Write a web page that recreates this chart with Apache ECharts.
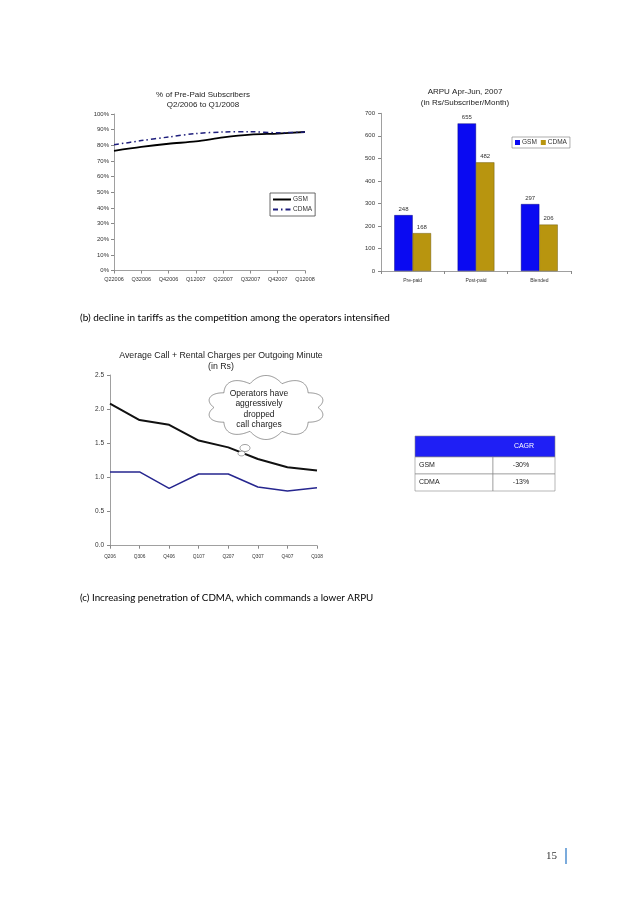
<!DOCTYPE html>
<html><head><meta charset="utf-8">
<script src="https://cdn.jsdelivr.net/npm/echarts@6/dist/echarts.min.js"></script>
<style>html,body{margin:0;padding:0;background:#fff}#c{width:638px;height:903px}</style>
</head><body><div id="c"></div>
<script>
// Chart 1: % of pre-paid subscribers
const prepaidQuarters = ['Q22006','Q32006','Q42006','Q12007','Q22007','Q32007','Q42007','Q12008'];
const prepaidGsm  = [76.5, 79, 81, 82.5, 85, 86.8, 87.5, 88.5];
const prepaidCdma = [80.3, 83, 85.3, 87.5, 88.5, 88.7, 88, 88.5];
// Chart 2: ARPU
const arpuCategories = ['Pre-paid','Post-paid','Blended'];
const arpuGsm  = [248, 655, 297];
const arpuCdma = [168, 482, 206];
// Chart 3: call + rental charges
const chargeQuarters = ['Q206','Q306','Q406','Q107','Q207','Q307','Q407','Q108'];
const chargeGsm  = [2.08, 1.84, 1.77, 1.54, 1.44, 1.27, 1.15, 1.10];
const chargeCdma = [1.08, 1.08, 0.84, 1.05, 1.05, 0.86, 0.80, 0.85];
// CAGR table
const cagrRows = ['GSM','CDMA'];
const cagrValues = ['-30%','-13%'];

const SANS = 'Liberation Sans';
const chart = echarts.init(document.getElementById('c'), null, {renderer:'canvas'});

function cloudPoints(cx, cy, rx, ry, n, h) {
  const p = [];
  const N = 480;
  for (let i = 0; i < N; i++) {
    const t = i * 2 * Math.PI / N;
    const b = h * Math.abs(Math.sin(n * t / 2));
    p.push([cx + (rx + b) * Math.cos(t), cy + (ry + b) * Math.sin(t)]);
  }
  return p;
}
function ellipsePoints(cx, cy, rx, ry) {
  const p = [];
  for (let i = 0; i < 32; i++) {
    const t = i * Math.PI / 16;
    p.push([cx + rx * Math.cos(t), cy + ry * Math.sin(t)]);
  }
  return p;
}

const axisLabelBase = {fontFamily: SANS, color: '#333'};
const axisLineStyle = {lineStyle: {color: '#888', width: 0.8}};

// table graphics
const tX0 = 415, tX1 = 555, tXm = 493;
const rowYs = [436, 457, 474, 491];
const tableEls = [];
tableEls.push({type:'rect', shape:{x:tX0, y:rowYs[0], width:tX1 - tX0, height:rowYs[1] - rowYs[0]}, style:{fill:'#1f1ff5', stroke:'#888', lineWidth:0.6}});
tableEls.push({type:'text', x:(tXm + tX1) / 2, y:(rowYs[0] + rowYs[1]) / 2, style:{text:'CAGR', fill:'#fff', font:'7px ' + SANS, align:'center', verticalAlign:'middle'}});
cagrRows.forEach((name, i) => {
  const y0 = rowYs[i + 1], y1 = rowYs[i + 2];
  tableEls.push({type:'rect', shape:{x:tX0, y:y0, width:tXm - tX0, height:y1 - y0}, style:{fill:'#fff', stroke:'#888', lineWidth:0.6}});
  tableEls.push({type:'rect', shape:{x:tXm, y:y0, width:tX1 - tXm, height:y1 - y0}, style:{fill:'#fff', stroke:'#888', lineWidth:0.6}});
  tableEls.push({type:'text', x:tX0 + 4, y:(y0 + y1) / 2, style:{text:name, fill:'#222', font:'7px ' + SANS, align:'left', verticalAlign:'middle'}});
  tableEls.push({type:'text', x:(tXm + tX1) / 2 - 3, y:(y0 + y1) / 2, style:{text:cagrValues[i], fill:'#222', font:'7px ' + SANS, align:'center', verticalAlign:'middle'}});
});

const option = {
  backgroundColor: '#fff',
  animation: false,
  title: [
    {text: '% of Pre-Paid Subscribers\nQ2/2006 to Q1/2008', left: 203, top: 90, textAlign: 'center', padding: 0,
     textStyle: {fontFamily: SANS, fontSize: 8, fontWeight: 'normal', color: '#222', lineHeight: 10}},
    {text: 'ARPU Apr-Jun, 2007\n(in Rs/Subscriber/Month)', left: 465, top: 87, textAlign: 'center', padding: 0,
     textStyle: {fontFamily: SANS, fontSize: 8, fontWeight: 'normal', color: '#222', lineHeight: 10.5}},
    {text: 'Average Call + Rental Charges per Outgoing Minute\n(in Rs)', left: 221, top: 350, textAlign: 'center', padding: 0,
     textStyle: {fontFamily: SANS, fontSize: 8.8, fontWeight: 'normal', color: '#222', lineHeight: 11}}
  ],
  legend: [
    {data: ['GSM','CDMA'], left: 270, top: 193, orient: 'vertical', borderColor: '#444', borderWidth: 0.8,
     padding: [3, 3, 3, 2], itemWidth: 18, itemHeight: 6, itemGap: 3, formatter: n => n.trim(),
     itemStyle: {opacity: 0},
     textStyle: {fontFamily: SANS, fontSize: 6.5, color: '#333', padding: [0, 0, 0, -3]}},
    {data: ['GSM ','CDMA '], left: 512, top: 137, orient: 'horizontal', borderColor: '#777', borderWidth: 0.6,
     padding: [2, 3, 2, 3], icon: 'rect', itemWidth: 5, itemHeight: 5, itemGap: 4, formatter: n => n.trim(),
     itemStyle: {borderWidth: 0},
     textStyle: {fontFamily: SANS, fontSize: 6.5, color: '#333', padding: [0, 0, 0, -3]}}
  ],
  grid: [
    {left: 114, top: 114, width: 191, height: 156.5},
    {left: 381, top: 113.3, width: 190, height: 157.7},
    {left: 110, top: 375, width: 207, height: 170.7}
  ],
  xAxis: [
    {gridIndex: 0, type: 'category', data: prepaidQuarters, boundaryGap: false,
     axisLine: axisLineStyle, axisTick: {show: true, length: 3, lineStyle: {color: '#888'}},
     axisLabel: Object.assign({fontSize: 5.5, margin: 6, interval: 0}, axisLabelBase)},
    {gridIndex: 1, type: 'category', data: arpuCategories,
     axisLine: axisLineStyle, axisTick: {show: true, length: 3, lineStyle: {color: '#888'}},
     axisLabel: Object.assign({fontSize: 5, margin: 7, interval: 0}, axisLabelBase)},
    {gridIndex: 2, type: 'category', data: chargeQuarters, boundaryGap: false,
     axisLine: axisLineStyle, axisTick: {show: true, length: 3, lineStyle: {color: '#888'}},
     axisLabel: Object.assign({fontSize: 4.8, margin: 8, interval: 0}, axisLabelBase)}
  ],
  yAxis: [
    {gridIndex: 0, type: 'value', min: 0, max: 100, interval: 10, splitLine: {show: false},
     axisLine: Object.assign({show: true}, axisLineStyle), axisTick: {show: true, length: 3, lineStyle: {color: '#888'}},
     axisLabel: Object.assign({fontSize: 6, margin: 5, formatter: '{value}%'}, axisLabelBase)},
    {gridIndex: 1, type: 'value', min: 0, max: 700, interval: 100, splitLine: {show: false},
     axisLine: Object.assign({show: true}, axisLineStyle), axisTick: {show: true, length: 3, lineStyle: {color: '#888'}},
     axisLabel: Object.assign({fontSize: 6, margin: 6}, axisLabelBase)},
    {gridIndex: 2, type: 'value', min: 0, max: 2.5, interval: 0.5, splitLine: {show: false},
     axisLine: Object.assign({show: true}, axisLineStyle), axisTick: {show: true, length: 3, lineStyle: {color: '#888'}},
     axisLabel: Object.assign({fontSize: 6.5, margin: 6, formatter: v => v.toFixed(1)}, axisLabelBase)}
  ],
  series: [
    {name: 'GSM', type: 'line', xAxisIndex: 0, yAxisIndex: 0, data: prepaidGsm, symbol: 'none', smooth: 0.3,
     lineStyle: {color: '#000', width: 1.8}, itemStyle: {color: '#000'}},
    {name: 'CDMA', type: 'line', xAxisIndex: 0, yAxisIndex: 0, data: prepaidCdma, symbol: 'none', smooth: 0.3,
     lineStyle: {color: '#1e1e7c', width: 1.5, type: [5, 3, 1.5, 3]}, itemStyle: {color: '#1e1e7c'}},
    {name: 'GSM ', type: 'bar', xAxisIndex: 1, yAxisIndex: 1, data: arpuGsm, barGap: '0%', barCategoryGap: '42%',
     itemStyle: {color: '#0a0af2', borderColor: '#00006a', borderWidth: 0.4},
     label: {show: true, position: 'top', distance: 3, fontSize: 6, fontFamily: SANS, color: '#333'}},
    {name: 'CDMA ', type: 'bar', xAxisIndex: 1, yAxisIndex: 1, data: arpuCdma, barGap: '0%', barCategoryGap: '42%',
     itemStyle: {color: '#b8950f', borderColor: '#5a4a00', borderWidth: 0.4},
     label: {show: true, position: 'top', distance: 3, fontSize: 6, fontFamily: SANS, color: '#333'}},
    {name: 'GSM charge', type: 'line', xAxisIndex: 2, yAxisIndex: 2, data: chargeGsm, symbol: 'none',
     lineStyle: {color: '#111', width: 2}},
    {name: 'CDMA charge', type: 'line', xAxisIndex: 2, yAxisIndex: 2, data: chargeCdma, symbol: 'none',
     lineStyle: {color: '#26268f', width: 1.5}}
  ],
  graphic: [
    {type: 'text', x: 80, y: 318, style: {text: '(b) decline in tariffs as the competition among the operators intensified', font: '10px Lato', fill: '#000', align: 'left', verticalAlign: 'middle'}},
    {type: 'text', x: 80, y: 598, style: {text: '(c) Increasing penetration of CDMA, which commands a lower ARPU', font: '9.8px Lato', fill: '#000', align: 'left', verticalAlign: 'middle'}},
    {type: 'polygon', z: 100, shape: {points: cloudPoints(266, 407.5, 52, 25, 10, 7)}, style: {fill: '#fff', stroke: '#777', lineWidth: 0.8}},
    {type: 'polygon', z: 100, shape: {points: ellipsePoints(245, 448, 5, 3.5)}, style: {fill: '#fff', stroke: '#777', lineWidth: 0.7}},
    {type: 'polygon', z: 100, shape: {points: ellipsePoints(241.5, 453.5, 3.5, 2.4)}, style: {fill: '#fff', stroke: '#777', lineWidth: 0.7}},
    {type: 'text', z: 101, x: 259, y: 409, style: {text: 'Operators have\naggressively\ndropped\ncall charges', font: '8.5px ' + SANS, fill: '#222', align: 'center', verticalAlign: 'middle', lineHeight: 10.5}},
    {type: 'group', children: tableEls},
    {type: 'text', x: 557, y: 856, style: {text: '15', font: '11px "Liberation Serif"', fill: '#333', align: 'right', verticalAlign: 'middle'}},
    {type: 'line', shape: {x1: 566, y1: 848, x2: 566, y2: 864}, style: {stroke: '#4f8fd0', lineWidth: 1.5}}
  ]
};
chart.setOption(option);
</script></body></html>
